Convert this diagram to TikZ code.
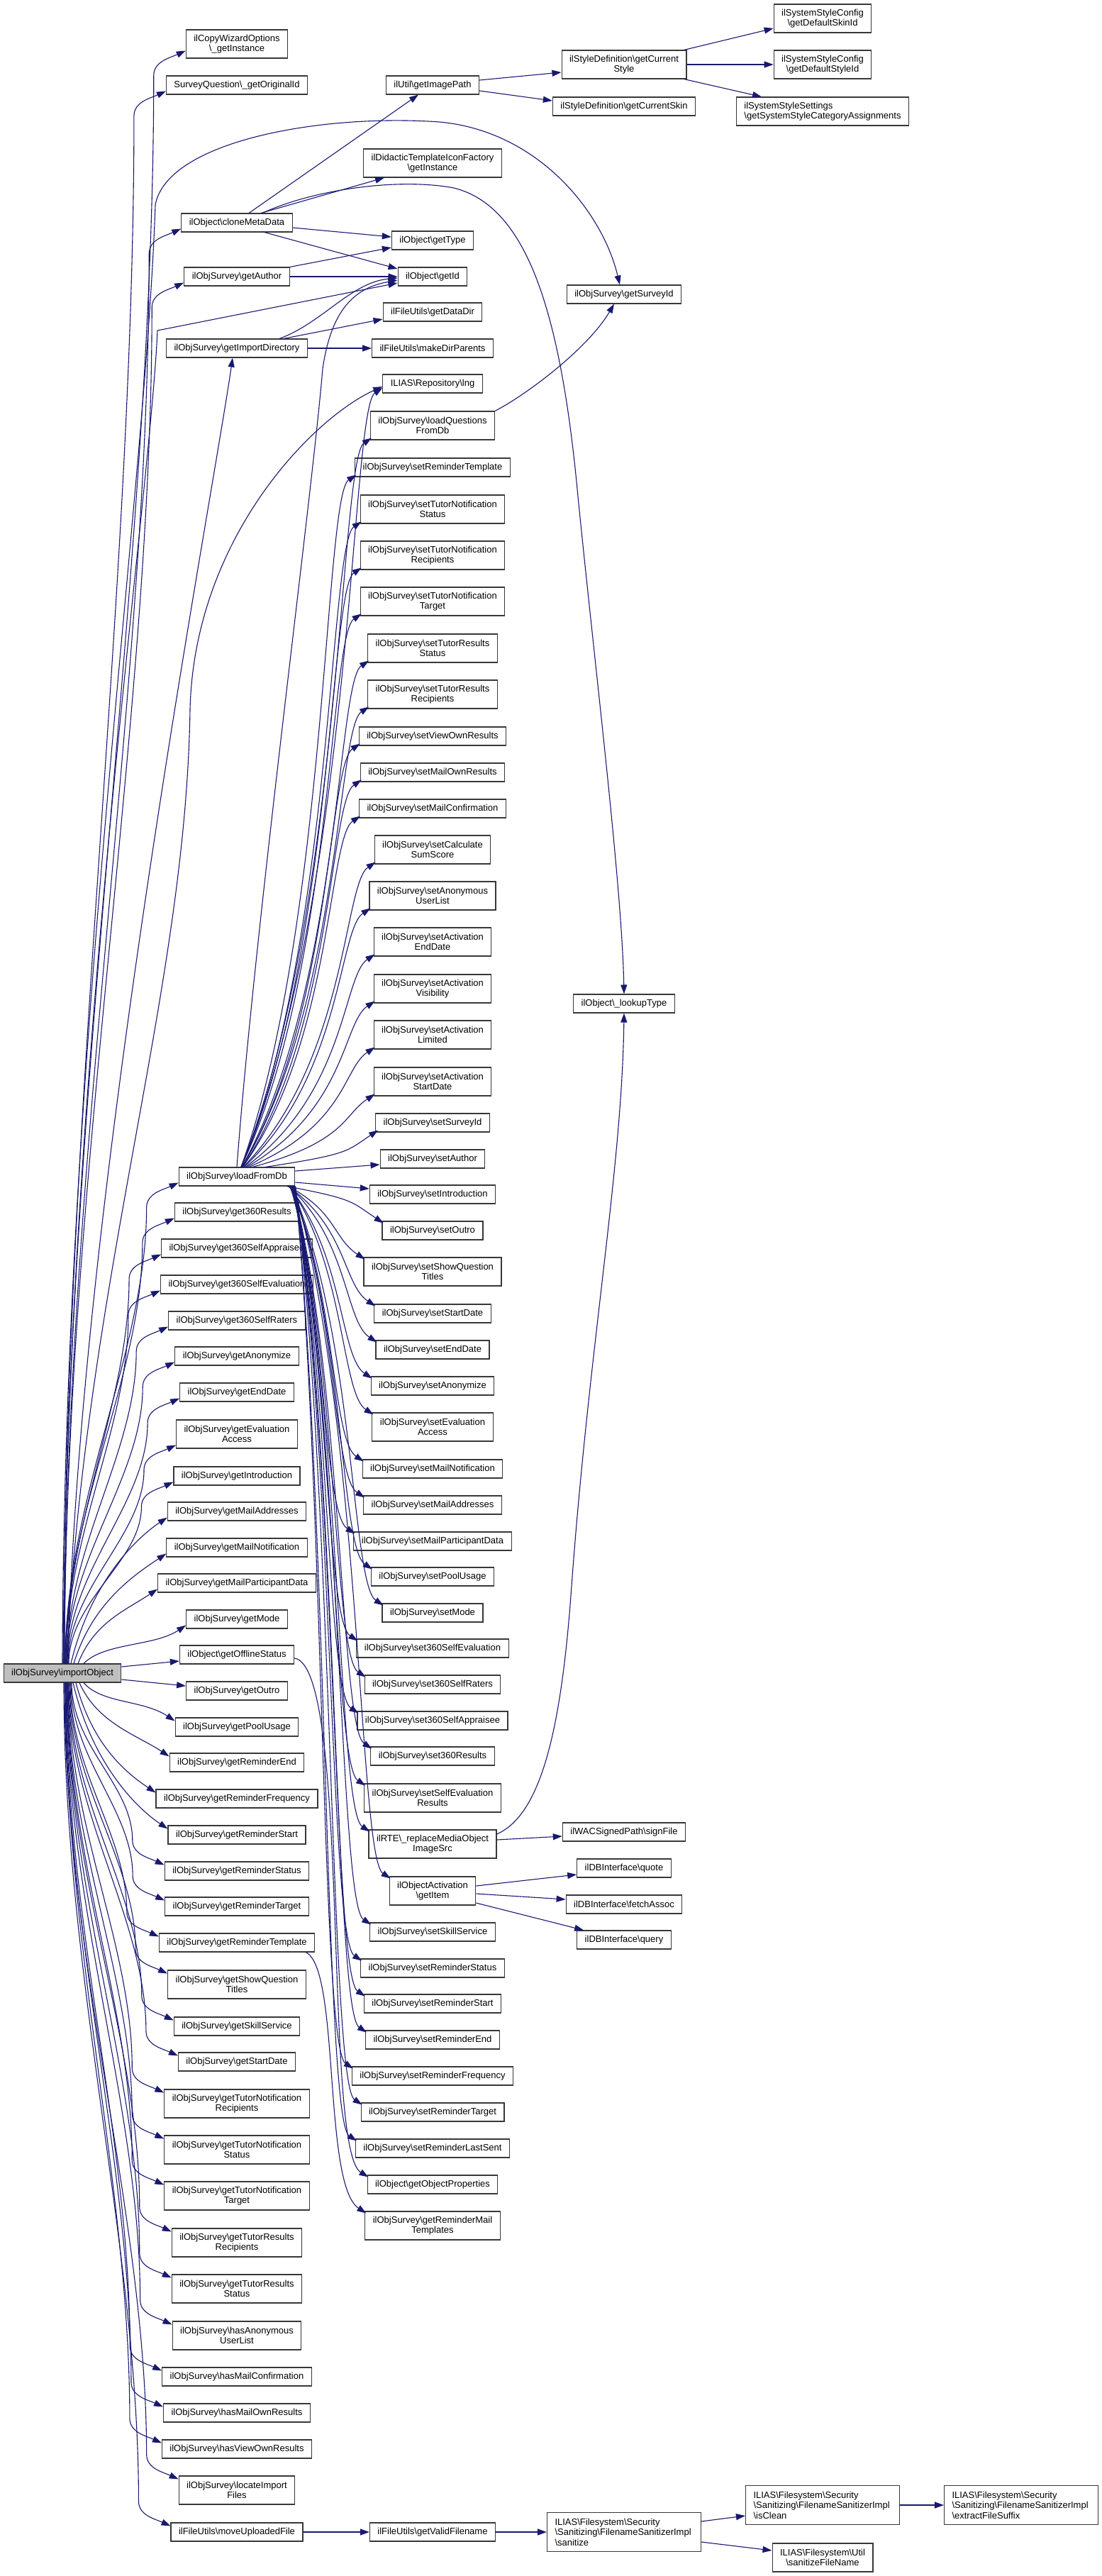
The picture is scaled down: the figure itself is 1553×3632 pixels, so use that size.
\documentclass[tikz,border=0pt]{standalone}
\usepackage{fontspec}
\setmainfont{Liberation Sans}
\usetikzlibrary{arrows.meta,calc}
\definecolor{edgeblue}{HTML}{191970}
\definecolor{rootgray}{HTML}{BFBFBF}
\newcommand\BSL{\textbackslash{}}
\tikzset{
  nd/.style={draw=black!78, fill=white, line width=1.1pt, inner xsep=11pt, inner ysep=1pt,
    minimum height=26pt, font=\fontsize{13}{14.5}\selectfont, align=center},
  ndtwo/.style={nd, minimum height=40pt},
  ndthree/.style={nd, minimum height=55pt, text width=195pt, align=left},
  cg/.style={draw=edgeblue, line width=1.1pt, -{Triangle[length=13pt,width=9pt]}},
}
% root -> near node above / below
\newcommand\cgRU[2]{\draw[cg] let \p1=(#1),\p2=(#2) in (\p1) .. controls ({\x1+0.2*(\x2-\x1)},{0.45*\y1+0.55*\y2}) and ({\x2-45pt},{\y2-30pt}) .. (\p2);}
\newcommand\cgRD[2]{\draw[cg] let \p1=(#1),\p2=(#2) in (\p1) .. controls ({\x1+0.2*(\x2-\x1)},{0.45*\y1+0.55*\y2}) and ({\x2-45pt},{\y2+30pt}) .. (\p2);}
% root -> far node above / below (vertical run, then a bend into the box)
\newcommand\cgRUU[2]{\draw[cg] let \p1=(#1),\p2=(#2) in (\p1) .. controls (\x1,{\y1+0.35*(\y2-\y1)}) and ({\x2-45pt},{\y2-35pt-0.3*(\y2-\y1)}) .. ({\x2-45pt},{\y2-35pt}) .. controls ({\x2-45pt},{\y2-15pt}) and ({\x2-22pt},{\y2-10pt}) .. (\p2);}
\newcommand\cgRDD[2]{\draw[cg] let \p1=(#1),\p2=(#2) in (\p1) .. controls (\x1,{\y1+0.35*(\y2-\y1)}) and ({\x2-45pt},{\y2+35pt-0.3*(\y2-\y1)}) .. ({\x2-45pt},{\y2+35pt}) .. controls ({\x2-45pt},{\y2+15pt}) and ({\x2-22pt},{\y2+10pt}) .. (\p2);}
% loadFromDb -> node above / below
\newcommand\cgLU[2]{\draw[cg] let \p1=(#1),\p2=(#2) in (\p1) .. controls ({\x2-40pt},{\y1+0.35*(\y2-\y1)}) and ({\x2-45pt},{\y2-30pt}) .. (\p2);}
\newcommand\cgLD[2]{\draw[cg] let \p1=(#1),\p2=(#2) in (\p1) .. controls ({\x2-40pt},{\y1+0.35*(\y2-\y1)}) and ({\x2-45pt},{\y2+30pt}) .. (\p2);}

\begin{document}
\begin{tikzpicture}[x=1pt,y=-1pt]
\fill[white] (0,0) rectangle (1553,3632);
\useasboundingbox (0,0) rectangle (1553,3632);

% ---------- root ----------
\node[nd, fill=rootgray] (root) at (88,2359) {ilObjSurvey\BSL importObject};

% ---------- column 2 ----------
\node[ndtwo] (copywiz) at (334,62) {ilCopyWizardOptions\\\BSL\_getInstance};
\node[nd] (origid) at (334,120) {SurveyQuestion\BSL\_getOriginalId};
\node[nd] (clonemd) at (334,314) {ilObject\BSL cloneMetaData};
\node[nd] (getauthor) at (334,390) {ilObjSurvey\BSL getAuthor};
\node[nd] (getimpdir) at (334,491) {ilObjSurvey\BSL getImportDirectory};
\node[nd] (loadfromdb) at (334,1659) {ilObjSurvey\BSL loadFromDb};
\node[nd] (gtsr) at (334,1709) {ilObjSurvey\BSL get360Results};
\node[nd] (gtsa) at (334,1760) {ilObjSurvey\BSL get360SelfAppraisee};
\node[nd] (gtse) at (334,1811) {ilObjSurvey\BSL get360SelfEvaluation};
\node[nd] (gtsra) at (334,1862) {ilObjSurvey\BSL get360SelfRaters};
\node[nd] (ganon) at (334,1912) {ilObjSurvey\BSL getAnonymize};
\node[nd] (genddate) at (334,1963) {ilObjSurvey\BSL getEndDate};
\node[ndtwo] (gevalacc) at (334,2022) {ilObjSurvey\BSL getEvaluation\\Access};
\node[nd] (gintro) at (334,2081) {ilObjSurvey\BSL getIntroduction};
\node[nd] (gmailaddr) at (334,2131) {ilObjSurvey\BSL getMailAddresses};
\node[nd] (gmailnot) at (334,2182) {ilObjSurvey\BSL getMailNotification};
\node[nd] (gmailpart) at (334,2232) {ilObjSurvey\BSL getMailParticipantData};
\node[nd] (gmode) at (334,2283) {ilObjSurvey\BSL getMode};
\node[nd] (goffline) at (334,2333) {ilObject\BSL getOfflineStatus};
\node[nd] (goutro) at (334,2384) {ilObjSurvey\BSL getOutro};
\node[nd] (gpool) at (334,2435) {ilObjSurvey\BSL getPoolUsage};
\node[nd] (gremend) at (334,2485) {ilObjSurvey\BSL getReminderEnd};
\node[nd] (gremfreq) at (334,2536) {ilObjSurvey\BSL getReminderFrequency};
\node[nd] (gremstart) at (334,2587) {ilObjSurvey\BSL getReminderStart};
\node[nd] (gremstatus) at (334,2638) {ilObjSurvey\BSL getReminderStatus};
\node[nd] (gremtarget) at (334,2688) {ilObjSurvey\BSL getReminderTarget};
\node[nd] (gremtpl) at (334,2739) {ilObjSurvey\BSL getReminderTemplate};
\node[ndtwo] (gshowqt) at (334,2798) {ilObjSurvey\BSL getShowQuestion\\Titles};
\node[nd] (gskill) at (334,2857) {ilObjSurvey\BSL getSkillService};
\node[nd] (gstartdate) at (334,2907) {ilObjSurvey\BSL getStartDate};
\node[ndtwo] (gtnrecip) at (334,2966) {ilObjSurvey\BSL getTutorNotification\\Recipients};
\node[ndtwo] (gtnstatus) at (334,3031) {ilObjSurvey\BSL getTutorNotification\\Status};
\node[ndtwo] (gtntarget) at (334,3096) {ilObjSurvey\BSL getTutorNotification\\Target};
\node[ndtwo] (gtrrecip) at (334,3162) {ilObjSurvey\BSL getTutorResults\\Recipients};
\node[ndtwo] (gtrstatus) at (334,3227) {ilObjSurvey\BSL getTutorResults\\Status};
\node[ndtwo] (hasanon) at (334,3293) {ilObjSurvey\BSL hasAnonymous\\UserList};
\node[nd] (hasmailconf) at (334,3351) {ilObjSurvey\BSL hasMailConfirmation};
\node[nd] (hasmailown) at (334,3402) {ilObjSurvey\BSL hasMailOwnResults};
\node[nd] (hasviewown) at (334,3453) {ilObjSurvey\BSL hasViewOwnResults};
\node[ndtwo] (locate) at (334,3511) {ilObjSurvey\BSL locateImport\\Files};
\node[nd] (moveup) at (334,3570) {ilFileUtils\BSL moveUploadedFile};

% ---------- column 3 ----------
\node[nd] (imagepath) at (610,120) {ilUtil\BSL getImagePath};
\node[ndtwo] (didactic) at (610,230) {ilDidacticTemplateIconFactory\\\BSL getInstance};
\node[nd] (gettype) at (610,339) {ilObject\BSL getType};
\node[nd] (getid) at (610,390) {ilObject\BSL getId};
\node[nd] (datadir) at (610,440) {ilFileUtils\BSL getDataDir};
\node[nd] (makedir) at (610,491) {ilFileUtils\BSL makeDirParents};
\node[nd] (lng) at (610,541) {ILIAS\BSL Repository\BSL lng};
\node[ndtwo] (loadq) at (610,600) {ilObjSurvey\BSL loadQuestions\\FromDb};
\node[nd] (sremtpl) at (610,659) {ilObjSurvey\BSL setReminderTemplate};
\node[ndtwo] (stnstatus) at (610,718) {ilObjSurvey\BSL setTutorNotification\\Status};
\node[ndtwo] (stnrecip) at (610,783) {ilObjSurvey\BSL setTutorNotification\\Recipients};
\node[ndtwo] (stntarget) at (610,848) {ilObjSurvey\BSL setTutorNotification\\Target};
\node[ndtwo] (strstatus) at (610,914) {ilObjSurvey\BSL setTutorResults\\Status};
\node[ndtwo] (strrecip) at (610,979) {ilObjSurvey\BSL setTutorResults\\Recipients};
\node[nd] (sviewown) at (610,1038) {ilObjSurvey\BSL setViewOwnResults};
\node[nd] (smailown) at (610,1089) {ilObjSurvey\BSL setMailOwnResults};
\node[nd] (smailconf) at (610,1140) {ilObjSurvey\BSL setMailConfirmation};
\node[ndtwo] (scalc) at (610,1198) {ilObjSurvey\BSL setCalculate\\SumScore};
\node[ndtwo] (sanonul) at (610,1263) {ilObjSurvey\BSL setAnonymous\\UserList};
\node[ndtwo] (sactend) at (610,1328) {ilObjSurvey\BSL setActivation\\EndDate};
\node[ndtwo] (sactvis) at (610,1394) {ilObjSurvey\BSL setActivation\\Visibility};
\node[ndtwo] (sactlim) at (610,1459) {ilObjSurvey\BSL setActivation\\Limited};
\node[ndtwo] (sactstart) at (610,1525) {ilObjSurvey\BSL setActivation\\StartDate};
\node[nd] (ssurveyid) at (610,1583) {ilObjSurvey\BSL setSurveyId};
\node[nd] (sauthor) at (610,1634) {ilObjSurvey\BSL setAuthor};
\node[nd] (sintro) at (610,1684) {ilObjSurvey\BSL setIntroduction};
\node[nd] (soutro) at (610,1735) {ilObjSurvey\BSL setOutro};
\node[ndtwo] (sshowqt) at (610,1793) {ilObjSurvey\BSL setShowQuestion\\Titles};
\node[nd] (sstart) at (610,1852) {ilObjSurvey\BSL setStartDate};
\node[nd] (send) at (610,1903) {ilObjSurvey\BSL setEndDate};
\node[nd] (sanonymize) at (610,1954) {ilObjSurvey\BSL setAnonymize};
\node[ndtwo] (sevalacc) at (610,2012) {ilObjSurvey\BSL setEvaluation\\Access};
\node[nd] (smailnot) at (610,2071) {ilObjSurvey\BSL setMailNotification};
\node[nd] (smailaddr) at (610,2122) {ilObjSurvey\BSL setMailAddresses};
\node[nd] (smailpart) at (610,2173) {ilObjSurvey\BSL setMailParticipantData};
\node[nd] (spool) at (610,2223) {ilObjSurvey\BSL setPoolUsage};
\node[nd] (smode) at (610,2274) {ilObjSurvey\BSL setMode};
\node[nd] (sthse) at (610,2324) {ilObjSurvey\BSL set360SelfEvaluation};
\node[nd] (sthsr) at (610,2375) {ilObjSurvey\BSL set360SelfRaters};
\node[nd] (sthsa) at (610,2426) {ilObjSurvey\BSL set360SelfAppraisee};
\node[nd] (sthr) at (610,2476) {ilObjSurvey\BSL set360Results};
\node[ndtwo] (sselfeval) at (610,2535) {ilObjSurvey\BSL setSelfEvaluation\\Results};
\node[ndtwo] (rte) at (610,2600) {ilRTE\BSL\_replaceMediaObject\\ImageSrc};
\node[ndtwo] (getitem) at (610,2666) {ilObjectActivation\\\BSL getItem};
\node[nd] (sskill) at (610,2724) {ilObjSurvey\BSL setSkillService};
\node[nd] (sremstatus) at (610,2775) {ilObjSurvey\BSL setReminderStatus};
\node[nd] (sremstart) at (610,2825) {ilObjSurvey\BSL setReminderStart};
\node[nd] (sremend) at (610,2876) {ilObjSurvey\BSL setReminderEnd};
\node[nd] (sremfreq) at (610,2927) {ilObjSurvey\BSL setReminderFrequency};
\node[nd] (sremtarget) at (610,2978) {ilObjSurvey\BSL setReminderTarget};
\node[nd] (sremlast) at (610,3029) {ilObjSurvey\BSL setReminderLastSent};
\node[nd] (getobjprop) at (610,3080) {ilObject\BSL getObjectProperties};
\node[ndtwo] (gremmailtpl) at (610,3138) {ilObjSurvey\BSL getReminderMail\\Templates};
\node[nd] (validfn) at (610,3570) {ilFileUtils\BSL getValidFilename};

% ---------- column 4 ----------
\node[ndtwo] (curstyle) at (880,91) {ilStyleDefinition\BSL getCurrent\\Style};
\node[nd] (curskin) at (880,150) {ilStyleDefinition\BSL getCurrentSkin};
\node[nd] (surveyid) at (880,415) {ilObjSurvey\BSL getSurveyId};
\node[nd] (lookup) at (880,1415) {ilObject\BSL\_lookupType};
\node[nd] (signfile) at (880,2583) {ilWACSignedPath\BSL signFile};
\node[nd] (quote) at (880,2634) {ilDBInterface\BSL quote};
\node[nd] (fetch) at (880,2685) {ilDBInterface\BSL fetchAssoc};
\node[nd] (query) at (880,2735) {ilDBInterface\BSL query};
\node[ndthree] (sanitize) at (880,3570) {ILIAS\BSL Filesystem\BSL Security\\\BSL Sanitizing\BSL FilenameSanitizerImpl\par\centering\BSL sanitize};

% ---------- column 5 / 6 ----------
\node[ndtwo] (defskin) at (1160,26) {ilSystemStyleConfig\\\BSL getDefaultSkinId};
\node[ndtwo] (defstyle) at (1160,91) {ilSystemStyleConfig\\\BSL getDefaultStyleId};
\node[ndtwo, align=left] (catassign) at (1160,157) {ilSystemStyleSettings\\\BSL getSystemStyleCategoryAssignments};
\node[ndthree] (isclean) at (1160,3532) {ILIAS\BSL Filesystem\BSL Security\\\BSL Sanitizing\BSL FilenameSanitizerImpl\par\centering\BSL isClean};
\node[ndtwo] (sanfn) at (1160,3606) {ILIAS\BSL Filesystem\BSL Util\\\BSL sanitizeFileName};
\node[ndthree] (extract) at (1440,3532) {ILIAS\BSL Filesystem\BSL Security\\\BSL Sanitizing\BSL FilenameSanitizerImpl\par\centering\BSL extractFileSuffix};

% ================= edges =================
% root -> above (far)
\cgRUU{[xshift=2]root.north}{[yshift=11]copywiz.south west}
\cgRUU{[xshift=2]root.north}{[yshift=5]origid.south west}
\cgRUU{[xshift=3]root.north}{[yshift=5]clonemd.south west}
\cgRUU{[xshift=3]root.north}{[yshift=5]getauthor.south west}
\cgRUU{[xshift=4]root.north}{[yshift=5]loadfromdb.south west}
\cgRUU{[xshift=4]root.north}{[yshift=5]gtsr.south west}
\cgRUU{[xshift=5]root.north}{[yshift=5]gtsa.south west}
\cgRUU{[xshift=5]root.north}{[yshift=5]gtse.south west}
\cgRUU{[xshift=6]root.north}{[yshift=5]gtsra.south west}
\cgRUU{[xshift=6]root.north}{[yshift=5]ganon.south west}
\cgRUU{[xshift=7]root.north}{[yshift=5]genddate.south west}
\cgRUU{[xshift=8]root.north}{[yshift=5]gevalacc.south west}
\cgRUU{[xshift=9]root.north}{[yshift=5]gintro.south west}
% root -> above (near)
\cgRU{[xshift=12]root.north}{[yshift=5]gmailaddr.south west}
\cgRU{[xshift=16]root.north}{[yshift=5]gmailnot.south west}
\cgRU{[xshift=22]root.north}{[yshift=5]gmailpart.south west}
\cgRU{[xshift=30]root.north}{[yshift=5]gmode.south west}
% root -> right
\draw[cg] ([yshift=9]root.east) -- ([yshift=-9]goffline.west);
\draw[cg] ([yshift=-9]root.east) -- ([yshift=7]goutro.west);
% root -> below (near)
\cgRD{[xshift=30]root.south}{[yshift=-5]gpool.north west}
\cgRD{[xshift=24]root.south}{[yshift=-5]gremend.north west}
\cgRD{[xshift=19]root.south}{[yshift=-5]gremfreq.north west}
\cgRD{[xshift=15]root.south}{[yshift=-5]gremstart.north west}
% root -> below (far)
\cgRDD{[xshift=13]root.south}{[yshift=-5]gremstatus.north west}
\cgRDD{[xshift=12]root.south}{[yshift=-5]gremtarget.north west}
\cgRDD{[xshift=11]root.south}{[yshift=-5]gremtpl.north west}
\cgRDD{[xshift=10]root.south}{[yshift=-5]gshowqt.north west}
\cgRDD{[xshift=9]root.south}{[yshift=-5]gskill.north west}
\cgRDD{[xshift=8]root.south}{[yshift=-5]gstartdate.north west}
\cgRDD{[xshift=8]root.south}{[yshift=-5]gtnrecip.north west}
\cgRDD{[xshift=7]root.south}{[yshift=-5]gtnstatus.north west}
\cgRDD{[xshift=7]root.south}{[yshift=-5]gtntarget.north west}
\cgRDD{[xshift=6]root.south}{[yshift=-5]gtrrecip.north west}
\cgRDD{[xshift=6]root.south}{[yshift=-5]gtrstatus.north west}
\cgRDD{[xshift=5]root.south}{[yshift=-5]hasanon.north west}
\cgRDD{[xshift=5]root.south}{[yshift=-5]hasmailconf.north west}
\cgRDD{[xshift=4]root.south}{[yshift=-5]hasmailown.north west}
\cgRDD{[xshift=4]root.south}{[yshift=-5]hasviewown.north west}
\cgRDD{[xshift=3]root.south}{[yshift=-5]locate.north west}
\cgRDD{[xshift=2]root.south}{[yshift=-5]moveup.north west}
% root -> special long curves
\draw[cg] ([xshift=1]root.north) .. controls (95,1500) and (212,700) .. (222,466) -- ([yshift=-9]getid.west);
\draw[cg] ([xshift=8]root.north) .. controls (110,1700) and (300,700) .. ([xshift=-6]getimpdir.south);
\draw[cg] ([xshift=6]root.north) .. controls (120,1800) and (262,1400) .. (268,1000) .. controls (274,760) and (440,590) .. ([yshift=-4]lng.west);
\draw[cg] ([xshift=0]root.north) .. controls (90,1500) and (205,700) .. (219,289) .. controls (235,200) and (450,160) .. (620,172) .. controls (760,185) and (850,300) .. ([xshift=-6]surveyid.north);

% cloneMetaData
\draw[cg] ([xshift=17]clonemd.north) -- ([xshift=-20]imagepath.south);
\draw[cg] ([xshift=34]clonemd.north) -- ([xshift=-68]didactic.south);
\draw[cg] ([yshift=-7]clonemd.east) -- ([yshift=5]gettype.west);
\draw[cg] ([xshift=39]clonemd.south) -- ([yshift=11]getid.west);
\draw[cg] ([xshift=36]clonemd.north) .. controls (440,268) and (560,250) .. (640,265) .. controls (740,290) and (790,430) .. (815,700) .. controls (840,950) and (877,1250) .. (lookup.north);
% getAuthor
\draw[cg] (getauthor.north east) -- ([yshift=-10]gettype.west);
\draw[cg] (getauthor.east) -- (getid.west);
% getImportDirectory
\draw[cg] ([xshift=66]getimpdir.north) -- ([yshift=-10]datadir.west);
\draw[cg] (getimpdir.east) -- (makedir.west);
\draw[cg] ([xshift=60]getimpdir.north) .. controls (455,455) and (495,398) .. ([yshift=-2]getid.west);
% getImagePath / style
\draw[cg] ([yshift=7]imagepath.east) -- ([yshift=-11]curstyle.west);
\draw[cg] ([yshift=-8]imagepath.east) -- ([yshift=8]curskin.west);
\draw[cg] ([xshift=-4]curstyle.north east) -- ([yshift=-14]defskin.west);
\draw[cg] (curstyle.east) -- (defstyle.west);
\draw[cg] ([xshift=-4]curstyle.south east) -- ([xshift=-86]catassign.north);
% loadQuestionsFromDb
\draw[cg] (loadq.north east) .. controls (745,555) and (830,490) .. ([xshift=-14]surveyid.south);

% loadFromDb -> getId, lng
\draw[cg] (loadfromdb.north) .. controls (360,1300) and (440,700) .. (455,520) .. controls (468,430) and (505,405) .. ([yshift=-5]getid.west);
\cgLU{[xshift=6]loadfromdb.north}{[yshift=-6]lng.west}
% loadFromDb -> above
\cgLU{[xshift=6]loadfromdb.north}{[xshift=2,yshift=3]loadq.south west}
\cgLU{[xshift=6]loadfromdb.north}{[xshift=2,yshift=3]sremtpl.south west}
\cgLU{[xshift=6]loadfromdb.north}{[xshift=2,yshift=3]stnstatus.south west}
\cgLU{[xshift=6]loadfromdb.north}{[xshift=2,yshift=3]stnrecip.south west}
\cgLU{[xshift=6]loadfromdb.north}{[xshift=2,yshift=3]stntarget.south west}
\cgLU{[xshift=7]loadfromdb.north}{[xshift=2,yshift=3]strstatus.south west}
\cgLU{[xshift=7]loadfromdb.north}{[xshift=2,yshift=3]strrecip.south west}
\cgLU{[xshift=7]loadfromdb.north}{[xshift=2,yshift=3]sviewown.south west}
\cgLU{[xshift=8]loadfromdb.north}{[xshift=2,yshift=3]smailown.south west}
\cgLU{[xshift=8]loadfromdb.north}{[xshift=2,yshift=3]smailconf.south west}
\cgLU{[xshift=9]loadfromdb.north}{[xshift=2,yshift=3]scalc.south west}
\cgLU{[xshift=10]loadfromdb.north}{[xshift=2,yshift=3]sanonul.south west}
\cgLU{[xshift=12]loadfromdb.north}{[xshift=2,yshift=3]sactend.south west}
\cgLU{[xshift=14]loadfromdb.north}{[xshift=2,yshift=3]sactvis.south west}
\cgLU{[xshift=17]loadfromdb.north}{[xshift=2,yshift=3]sactlim.south west}
\cgLU{[xshift=22]loadfromdb.north}{[xshift=2,yshift=3]sactstart.south west}
\cgLU{[xshift=40]loadfromdb.north}{[xshift=4,yshift=3]ssurveyid.south west}
% loadFromDb -> right
\draw[cg] ([yshift=8]loadfromdb.east) -- ([yshift=-8]sauthor.west);
\draw[cg] ([yshift=-8]loadfromdb.east) -- ([yshift=8]sintro.west);
% loadFromDb -> below
\cgLD{[xshift=-12]loadfromdb.south east}{[xshift=2,yshift=-3]soutro.north west}
\cgLD{[xshift=-10]loadfromdb.south east}{[xshift=2,yshift=-3]sshowqt.north west}
\cgLD{[xshift=-10]loadfromdb.south east}{[xshift=2,yshift=-3]sstart.north west}
\cgLD{[xshift=-9]loadfromdb.south east}{[xshift=2,yshift=-3]send.north west}
\cgLD{[xshift=-9]loadfromdb.south east}{[xshift=2,yshift=-3]sanonymize.north west}
\cgLD{[xshift=-8]loadfromdb.south east}{[xshift=2,yshift=-3]sevalacc.north west}
\cgLD{[xshift=-8]loadfromdb.south east}{[xshift=2,yshift=-3]smailnot.north west}
\cgLD{[xshift=-7]loadfromdb.south east}{[xshift=2,yshift=-3]smailaddr.north west}
\cgLD{[xshift=-7]loadfromdb.south east}{[xshift=2,yshift=-3]smailpart.north west}
\cgLD{[xshift=-6]loadfromdb.south east}{[xshift=2,yshift=-3]spool.north west}
\cgLD{[xshift=-6]loadfromdb.south east}{[xshift=2,yshift=-3]smode.north west}
\cgLD{[xshift=-5]loadfromdb.south east}{[xshift=2,yshift=-3]sthse.north west}
\cgLD{[xshift=-5]loadfromdb.south east}{[xshift=2,yshift=-3]sthsr.north west}
\cgLD{[xshift=-4]loadfromdb.south east}{[xshift=2,yshift=-3]sthsa.north west}
\cgLD{[xshift=-4]loadfromdb.south east}{[xshift=2,yshift=-3]sthr.north west}
\cgLD{[xshift=-3]loadfromdb.south east}{[xshift=2,yshift=-3]sselfeval.north west}
\cgLD{[xshift=-3]loadfromdb.south east}{[xshift=2,yshift=-3]rte.north west}
\cgLD{[xshift=-2]loadfromdb.south east}{[xshift=2,yshift=-3]getitem.north west}
\cgLD{[xshift=-2]loadfromdb.south east}{[xshift=2,yshift=-3]sskill.north west}
\cgLD{[xshift=-1]loadfromdb.south east}{[xshift=2,yshift=-3]sremstatus.north west}
\cgLD{[xshift=-1]loadfromdb.south east}{[xshift=2,yshift=-3]sremstart.north west}
\cgLD{[xshift=0]loadfromdb.south east}{[xshift=2,yshift=-3]sremend.north west}
\cgLD{[xshift=0]loadfromdb.south east}{[xshift=2,yshift=-3]sremfreq.north west}
\cgLD{[xshift=0]loadfromdb.south east}{[xshift=2,yshift=-3]sremtarget.north west}
\cgLD{[xshift=0]loadfromdb.south east}{[xshift=2,yshift=-3]sremlast.north west}

% ilRTE / getItem
\draw[cg] ([yshift=14]rte.east) .. controls (760,2560) and (790,2450) .. (805,2250) .. controls (830,1900) and (877,1650) .. (lookup.south);
\draw[cg] ([yshift=6]rte.east) -- ([yshift=-6]signfile.west);
\draw[cg] ([yshift=7]getitem.east) -- ([yshift=-9]quote.west);
\draw[cg] ([yshift=-4]getitem.east) -- ([yshift=7]fetch.west);
\draw[cg] ([yshift=-17]getitem.east) -- ([xshift=10]query.north west);
% other
\draw[cg] ([yshift=-5]goffline.east) .. controls (495,2348) and (455,3030) .. ([xshift=2,yshift=-3]getobjprop.north west);
\draw[cg] ([xshift=-13]gremtpl.south east) .. controls (480,2775) and (455,3080) .. ([xshift=2,yshift=-3]gremmailtpl.north west);
% file chain
\draw[cg] (moveup.east) -- (validfn.west);
\draw[cg] (validfn.east) -- (sanitize.west);
\draw[cg] ([yshift=15]sanitize.east) -- ([yshift=-15]isclean.west);
\draw[cg] ([yshift=-14]sanitize.east) -- ([yshift=10]sanfn.west);
\draw[cg] (isclean.east) -- (extract.west);
\end{tikzpicture}
\end{document}
